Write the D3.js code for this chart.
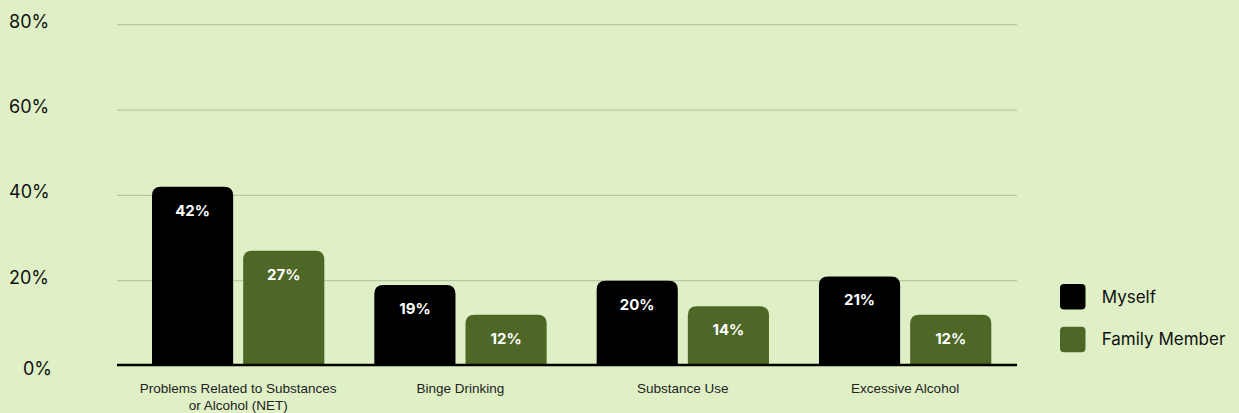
<!DOCTYPE html>
<html>
  <head>
    <script src="https://d3js.org/d3.v7.min.js"></script>
    <style>
      body { margin: 0; background: #dff0c6; }
      svg { display: block; font-family: Inter, "Liberation Sans", sans-serif; }
      .grid line { stroke: #b9c9a9; stroke-width: 1.2px; }
      .tick-label { font-size: 18px; fill: #111; }
      .cat-label { font-size: 13.5px; fill: #222; text-anchor: middle; font-family: "Liberation Sans", sans-serif; }
      .value-label { font-size: 15px; font-weight: 700; fill: #fff; text-anchor: middle; }
      .legend text { font-size: 17px; fill: #111; }
    </style>
  </head>
  <body>
    <svg width="1239" height="413"></svg>
    <script>
      const categories = [
        ["Problems Related to Substances", "or Alcohol (NET)"],
        ["Binge Drinking"],
        ["Substance Use"],
        ["Excessive Alcohol"]
      ];
      const seriesNames = ["Myself", "Family Member"];
      const myself = [42, 19, 20, 21];
      const familyMember = [27, 12, 14, 12];
      const yTicks = [0, 20, 40, 60, 80];
      const colors = ["#000000", "#4e6626"];

      const svg = d3.select("svg");
      const catKeys = categories.map(c => c.join(" "));

      const yScale = d3.scaleLinear()
        .domain([0, 80])
        .range([366, 24.7]);

      const x0 = d3.scaleBand()
        .domain(catKeys)
        .range([127, 1016.3]);

      const x1 = d3.scaleBand()
        .domain(seriesNames)
        .range([25, x0.bandwidth() - 25])
        .paddingInner(0.11);

      const color = d3.scaleOrdinal().domain(seriesNames).range(colors);

      // gridlines
      svg.append("g").attr("class", "grid")
        .selectAll("line")
        .data(yTicks.filter(d => d > 0))
        .join("line")
          .attr("x1", 117)
          .attr("x2", 1017)
          .attr("y1", d => yScale(d))
          .attr("y2", d => yScale(d));

      svg.append("g")
        .selectAll("text")
        .data(yTicks)
        .join("text")
          .attr("class", "tick-label")
          .attr("x", d => d === 0 ? 23 : 9)
          .attr("y", d => yScale(d) + (d === 0 ? 6 + 3 : 3))
          .text(d => d + "%");

      const rows = catKeys.map((k, i) => ({
        key: k,
        values: [myself[i], familyMember[i]]
      }));

      function topRounded(x, y, w, h, r) {
        r = Math.min(r, h, w / 2);
        return `M${x},${y + h}V${y + r}Q${x},${y} ${x + r},${y}` +
          `H${x + w - r}Q${x + w},${y} ${x + w},${y + r}V${y + h}Z`;
      }

      const group = svg.append("g")
        .selectAll("g")
        .data(rows)
        .join("g")
          .attr("transform", d => `translate(${x0(d.key)},0)`);

      const bars = group.selectAll("g")
        .data(d => d.values.map((v, i) => ({ name: seriesNames[i], value: v })))
        .join("g");

      bars.append("path")
        .attr("fill", d => color(d.name))
        .attr("d", d => topRounded(x1(d.name), yScale(d.value), x1.bandwidth(),
          yScale(0) - yScale(d.value), 9));

      bars.append("text")
        .attr("class", "value-label")
        .attr("x", d => x1(d.name) + x1.bandwidth() / 2)
        .attr("y", d => yScale(d.value) + 29)
        .text(d => d.value + "%");

      // baseline
      svg.append("line")
        .attr("x1", 117).attr("x2", 1017)
        .attr("y1", yScale(0) - 1).attr("y2", yScale(0) - 1)
        .attr("stroke", "#000").attr("stroke-width", 2.5);

      // category labels
      svg.append("g")
        .selectAll("text")
        .data(categories)
        .join("text")
          .attr("class", "cat-label")
          .attr("x", (d, i) => x0(catKeys[i]) + x0.bandwidth() / 2)
          .attr("y", 393)
          .selectAll("tspan")
          .data(d => d)
          .join("tspan")
            .attr("x", function() { return d3.select(this.parentNode).attr("x"); })
            .attr("dy", (d, i) => i === 0 ? 0 : 16.7)
            .text(d => d);

      // legend
      const legend = svg.append("g").attr("class", "legend")
        .attr("transform", "translate(1060,284)");
      const item = legend.selectAll("g")
        .data(seriesNames)
        .join("g")
          .attr("transform", (d, i) => `translate(0,${i * 42.7})`);
      item.append("rect")
        .attr("width", 25.5).attr("height", 25.5)
        .attr("rx", 4)
        .attr("fill", d => color(d));
      item.append("text")
        .attr("x", 41.7)
        .attr("y", 18.8)
        .text(d => d);
    </script>
  </body>
</html>
